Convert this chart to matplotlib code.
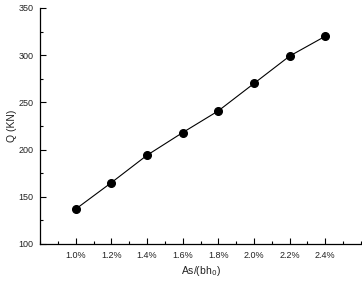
import matplotlib.pyplot as plt
from matplotlib.ticker import MultipleLocator, FixedLocator

# reinforcement ratio (%) and shear capacity Q (kN)
ratio = [1.0, 1.2, 1.4, 1.6, 1.8, 2.0, 2.2, 2.4]
shear = [137, 165, 194, 218, 241, 270, 299, 320]
tick_labels = ['1.0%', '1.2%', '1.4%', '1.6%', '1.8%', '2.0%', '2.2%', '2.4%']

plt.rcParams['font.family'] = ['Liberation Sans', 'DejaVu Sans']

fig = plt.figure(figsize=(3.62, 2.83), dpi=100)
ax = fig.add_axes([0.111, 0.138, 0.886, 0.834])

ax.plot(ratio, shear, color='black', lw=0.8, marker='o', ms=5.5)

ax.set_xlim(0.8, 2.6)
ax.set_ylim(100, 350)
ax.xaxis.set_major_locator(FixedLocator(ratio))
ax.set_xticklabels(tick_labels)
ax.xaxis.set_minor_locator(MultipleLocator(0.1))
ax.yaxis.set_major_locator(MultipleLocator(50))
ax.yaxis.set_minor_locator(MultipleLocator(25))

ax.tick_params(which='both', direction='in', labelsize=6.5, width=0.8,
               labelcolor='#222222')
ax.tick_params(which='major', length=4, pad=5)
ax.tick_params(which='minor', length=2)
ax.spines['top'].set_visible(False)
ax.spines['right'].set_visible(False)
ax.spines['left'].set_linewidth(0.9)
ax.spines['bottom'].set_linewidth(0.9)

ax.set_xlabel('As/(bh$_0$)', fontsize=7.5, labelpad=3, color='#222222')
ax.set_ylabel('Q (KN)', fontsize=7.5, labelpad=1, color='#222222')

fig.savefig('out.png', dpi=100)
